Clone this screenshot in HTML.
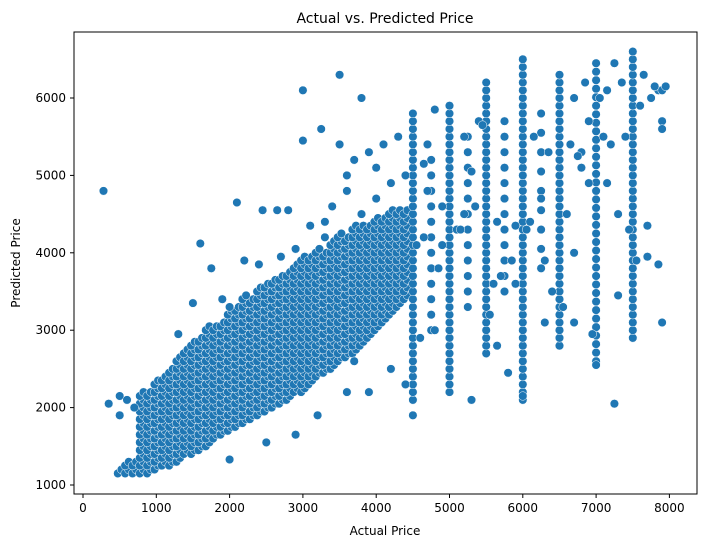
<!DOCTYPE html>
<html><head><meta charset="utf-8"><style>
body{margin:0;background:#fff;font-family:"Liberation Sans","DejaVu Sans",sans-serif;}
svg text{font-family:"DejaVu Sans","Liberation Sans",sans-serif;fill:#000;}
</style></head><body>
<svg id="chart" width="704" height="547" viewBox="0 0 704 547">
<rect x="0" y="0" width="704" height="547" fill="#fff"/>
<text x="385" y="23" font-size="14" text-anchor="middle">Actual vs. Predicted Price</text>
<g id="marks"></g>
<rect x="74" y="32" width="623" height="462" fill="none" stroke="#000" stroke-width="1"/>
<g id="axes"></g>
<text x="385" y="535" font-size="12" text-anchor="middle">Actual Price</text>
<text x="20" y="263" font-size="12" text-anchor="middle" transform="rotate(-90 20 263)">Predicted Price</text>
</svg>
<script>
// Dense band columns: [actual price, lowest predicted, highest predicted, spacing]
const bandColumns = [
[500,1150,1200,100],[600,1150,1250,100],[700,1150,1300,100],[800,1150,2150,100],[900,1150,2200,100],
[1000,1200,2300,100],[1100,1250,2400,100],[1200,1250,2500,100],[1300,1300,2600,100],[1400,1400,2700,100],
[1500,1400,2800,100],[1600,1450,2900,100],[1700,1500,3000,100],[1800,1600,3000,100],[1900,1650,3100,100],
[2000,1700,3200,100],[2100,1750,3300,100],[2200,1800,3400,100],[2300,1850,3400,100],[2400,1900,3500,100],
[2500,1950,3600,100],[2600,2000,3600,100],[2700,2050,3700,100],[2800,2100,3700,100],[2900,2200,3800,100],
[3000,2200,3900,100],[3100,2300,3900,100],[3200,2400,4000,100],[3300,2450,4000,100],[3400,2500,4100,100],
[3500,2600,4200,100],[3600,2650,4200,100],[3700,2700,4300,100],[3800,2800,4300,100],[3900,2900,4300,100],
[4000,3000,4400,100],[4100,3100,4400,100],[4200,3200,4500,100],[4300,3300,4500,100],[4400,3400,4500,100]
];
// Vertical streaks at round prices: [actual price, lowest predicted, highest predicted, spacing]
const streakColumns = [
[4500,2100,5800,100],[4750,3000,5300,200],[5000,2200,5900,100],[5250,3300,5500,200],[5500,2700,6200,100],
[5750,3500,5800,200],[6000,2100,6500,100],[6250,3800,6000,250],[6500,2800,6300,100],[7000,2600,6500,110],[7500,2900,6600,100]
];
const outlierX = [280,350,500,500,600,700,2100,3500,3000,3800,3250,3000,2650,2800,2450,1600,1750,2000,7250,5300,4500,3200,2900,2500,2000,7000,7900,7850,7700,7300,6000,6700,6300,5200,5400,6150,6800,7100,7200,7650,7850,7900,7250,5300,4800,4700,4300,4100,4000,3700,3900,4850,5700,5850,6100,6250,6600,6900,7450,7700,6950,5800,5650,3700,4200,4400,4600,4800,3900,3600,6000,6050,5900,5350,5550,6400,6300,6550,6700,6800,6900,7050,7150,7350,7600,7750,7900,7400,7300,7150,6650,6700,6850,5200,5100,4900,4700,4650,4400,4200,4000,3800,3600,3400,3300,3500,3600,7550,7900,5600,6350,6750,7800,7950,5450,4550,2200,2400,2700,2900,3100,3300,1900,1500,1300,4650,4900,5150,5650,5900];
const outlierY = [4800,2050,1900,2150,2100,2000,4650,6300,6100,6000,5600,5450,4550,4550,4550,4120,3800,3300,2050,2100,1900,1900,1650,1550,1330,2550,3100,3850,3950,3450,2150,3100,3100,4500,5700,5500,5300,5500,5400,6300,6100,5700,6450,5050,5850,5400,5500,5400,5100,5200,5300,3800,3700,3900,4400,4700,4500,4900,4300,4350,2950,2450,2800,2600,2500,2300,2900,3000,2200,2200,5000,4300,3600,4600,3200,3500,3900,3300,4000,5100,5700,6000,6100,6200,5900,6000,6100,5500,4500,4900,5400,6000,6200,5500,4300,4600,4800,5150,5000,4900,4700,4500,4800,4600,4400,5400,5000,3900,5600,3600,5300,5250,6150,6150,5650,4100,3900,3850,3950,4050,4350,4200,3400,3350,2950,4200,4100,4300,4400,4350];
const xTicks = [0,1000,2000,3000,4000,5000,6000,7000,8000];
const yTicks = [1000,2000,3000,4000,5000,6000];

const sx = v => 83 + v * 0.0733;
const sy = v => 485 - (v - 1000) * 0.0774;
const NS = "http://www.w3.org/2000/svg";
const marks = document.getElementById('marks');
function dot(x, y) {
  const c = document.createElementNS(NS, 'circle');
  c.setAttribute('cx', sx(x).toFixed(1));
  c.setAttribute('cy', sy(y).toFixed(1));
  c.setAttribute('r', 4.3);
  c.setAttribute('fill', '#1f77b4');
  c.setAttribute('stroke', '#fff');
  c.setAttribute('stroke-width', 0.5);
  
  
  marks.appendChild(c);
}
bandColumns.forEach(col => {
  for (let y = col[1]; y <= col[2]; y += col[3]) {
    dot(col[0] - 25, y);
    dot(col[0] + 25, y + col[3] / 2);
  }
});
streakColumns.forEach(col => {
  for (let y = col[1]; y <= col[2]; y += col[3]) dot(col[0], y);
});
outlierX.forEach((x, i) => dot(x, outlierY[i]));

const axes = document.getElementById('axes');
xTicks.forEach(t => {
  const l = document.createElementNS(NS, 'line');
  l.setAttribute('x1', sx(t)); l.setAttribute('x2', sx(t));
  l.setAttribute('y1', 494); l.setAttribute('y2', 498);
  l.setAttribute('stroke', '#000');
  
  
  axes.appendChild(l);
  const tx = document.createElementNS(NS, 'text');
  tx.setAttribute('x', sx(t)); tx.setAttribute('y', 512);
  tx.setAttribute('font-size', 12); tx.setAttribute('text-anchor', 'middle');
  tx.textContent = t;
  
  
  axes.appendChild(tx);
});
yTicks.forEach(t => {
  const l = document.createElementNS(NS, 'line');
  l.setAttribute('x1', 70); l.setAttribute('x2', 74);
  l.setAttribute('y1', sy(t)); l.setAttribute('y2', sy(t));
  l.setAttribute('stroke', '#000');
  
  
  axes.appendChild(l);
  const tx = document.createElementNS(NS, 'text');
  tx.setAttribute('x', 66); tx.setAttribute('y', sy(t) + 4);
  tx.setAttribute('font-size', 12); tx.setAttribute('text-anchor', 'end');
  tx.textContent = t;
  
  
  axes.appendChild(tx);
});
</script>
</body></html>
